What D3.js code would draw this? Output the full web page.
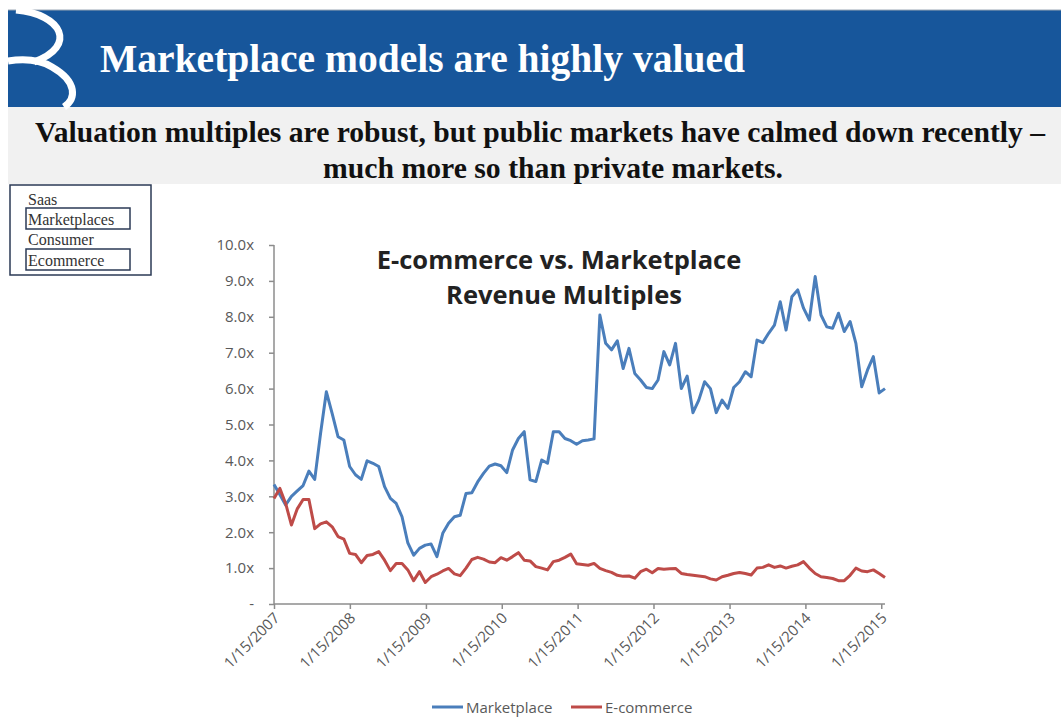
<!DOCTYPE html>
<html>
<head>
<meta charset="utf-8">
<script src="https://cdn.jsdelivr.net/npm/d3@7"></script>
<style>
  body { margin: 0; background: #fff; }
  svg { display: block; }
</style>
</head>
<body>
<div id="chart"></div>
<script>

// series are sampled every 4 weeks starting 1/15/2007
var startDate = "2007-01-15", stepDays = 28;

var marketplace = [3.33, 3.05, 2.76, 3.0, 3.15, 3.3, 3.7, 3.47, 4.75, 5.91,
    5.3, 4.66, 4.57, 3.83, 3.6, 3.47, 3.99, 3.92, 3.83, 3.27,
    2.94, 2.8, 2.43, 1.7, 1.36, 1.55, 1.64, 1.67, 1.32, 1.97,
    2.25, 2.43, 2.47, 3.08, 3.1, 3.4, 3.64, 3.84, 3.9, 3.85,
    3.66, 4.29, 4.61, 4.8, 3.46, 3.41, 4.01, 3.92, 4.8, 4.8,
    4.61, 4.55, 4.45, 4.55, 4.57, 4.6, 8.05, 7.26, 7.08, 7.33,
    6.56, 7.12, 6.42, 6.24, 6.03, 6.0, 6.24, 7.03, 6.66, 7.26,
    6.0, 6.35, 5.33, 5.68, 6.19, 6.0, 5.33, 5.68, 5.45, 6.03,
    6.19, 6.47, 6.33, 7.35, 7.28, 7.54, 7.77, 8.42, 7.63, 8.56,
    8.75, 8.24, 7.91, 9.12, 8.05, 7.72, 7.68, 8.1, 7.59, 7.87,
    7.26, 6.05, 6.52, 6.89, 5.88, 6.0];

var ecommerce = [2.94, 3.22, 2.8, 2.2, 2.65, 2.91, 2.91, 2.1, 2.23, 2.29,
    2.15, 1.88, 1.81, 1.41, 1.38, 1.15, 1.35, 1.38, 1.46, 1.22,
    0.93, 1.13, 1.13, 0.95, 0.65, 0.9, 0.6, 0.76, 0.83, 0.92,
    0.99, 0.84, 0.79, 1.0, 1.24, 1.3, 1.25, 1.17, 1.15, 1.29,
    1.22, 1.32, 1.43, 1.22, 1.2, 1.04, 1.0, 0.95, 1.18, 1.22,
    1.3, 1.39, 1.12, 1.1, 1.08, 1.13, 0.99, 0.93, 0.88, 0.8,
    0.77, 0.78, 0.72, 0.9, 0.97, 0.87, 0.99, 0.97, 0.98, 0.99,
    0.85, 0.82, 0.8, 0.78, 0.76, 0.7, 0.67, 0.76, 0.8, 0.85,
    0.88, 0.85, 0.81, 1.0, 1.02, 1.09, 1.02, 1.06, 1.0, 1.05,
    1.09, 1.18, 1.0, 0.85, 0.76, 0.74, 0.71, 0.65, 0.65, 0.8,
    1.0, 0.92, 0.9, 0.95, 0.85, 0.74];

var xTickLabels = ["1/15/2007", "1/15/2008", "1/15/2009", "1/15/2010", "1/15/2011",
    "1/15/2012", "1/15/2013", "1/15/2014", "1/15/2015"];
var yTicks = [0, 1, 2, 3, 4, 5, 6, 7, 8, 9, 10];
var yTickLabels = ["-", "1.0x", "2.0x", "3.0x", "4.0x", "5.0x", "6.0x", "7.0x", "8.0x", "9.0x", "10.0x"];

var seriesNames = ["Marketplace", "E-commerce"];
var seriesColors = ["#4a7ebb", "#be4b48"];
var sideMenu = ["Saas", "Marketplaces", "Consumer", "Ecommerce"];


var W = 1061, H = 726;
var svg = d3.select("#chart").append("svg")
    .attr("width", W)
    .attr("height", H);

/* slide header */
svg.append("rect")
    .attr("x", 8).attr("y", 10)
    .attr("width", W - 8).attr("height", 97)
    .style("fill", "#17569b");
svg.append("line")
    .attr("x1", 8).attr("x2", W).attr("y1", 10).attr("y2", 10)
    .style("stroke", "#9aa6b4");
svg.append("rect")
    .attr("x", 8).attr("y", 107)
    .attr("width", W - 8).attr("height", 77)
    .style("fill", "#f1f1f1");

// white logo strokes on the left
svg.append("path")
    .attr("d", "M16,10 C62,14 78,46 34,62")
    .style("fill", "none").style("stroke", "#fff").style("stroke-width", 7);
svg.append("path")
    .attr("d", "M8,61 C28,58 42,61 52,67 C78,82 76,99 64,107")
    .style("fill", "none").style("stroke", "#fff").style("stroke-width", 7);

svg.append("text")
    .attr("x", 100).attr("y", 72)
    .attr("textLength", 645).attr("lengthAdjust", "spacingAndGlyphs")
    .style("font-family", "Liberation Serif").style("font-weight", "bold")
    .style("font-size", "41px").style("fill", "#fff")
    .text("Marketplace models are highly valued");

svg.append("text")
    .attr("x", 35).attr("y", 142)
    .attr("textLength", 1010).attr("lengthAdjust", "spacingAndGlyphs")
    .style("font-family", "Liberation Serif").style("font-weight", "bold")
    .style("font-size", "29px").style("fill", "#111")
    .text("Valuation multiples are robust, but public markets have calmed down recently \u2013");
svg.append("text")
    .attr("x", 323).attr("y", 178)
    .attr("textLength", 460).attr("lengthAdjust", "spacingAndGlyphs")
    .style("font-family", "Liberation Serif").style("font-weight", "bold")
    .style("font-size", "29px").style("fill", "#111")
    .text("much more so than private markets.");

/* side menu box */
svg.append("rect")
    .attr("x", 10).attr("y", 185).attr("width", 141).attr("height", 90)
    .style("fill", "none").style("stroke", "#2b3a55").style("stroke-width", 1.5);
[1, 3].forEach(function(i) {
    svg.append("rect")
        .attr("x", 26).attr("y", i == 1 ? 208 : 249).attr("width", 104).attr("height", 21)
        .style("fill", "none").style("stroke", "#2b3a55").style("stroke-width", 1.5);
});
var menuY = [205, 225, 245, 266];
sideMenu.forEach(function(name, i) {
    svg.append("text")
        .attr("x", 28).attr("y", menuY[i])
        .style("font-family", "Liberation Serif").style("font-size", "16px")
        .style("fill", "#333")
        .text(name);
});


/* chart */
var dates = marketplace.map(function(d, i) {
    return d3.timeDay.offset(new Date(startDate + "T00:00:00"), i * stepDays);
});
var tickDates = xTickLabels.map(function(s) { return d3.timeParse("%m/%d/%Y")(s); });

var x = d3.scaleTime()
    .domain([dates[0], dates[dates.length - 1]])
    .range([274, 885]);
var y = d3.scaleLinear()
    .domain([0, 10])
    .range([604, 245]);

var axisColor = "#8c8c8c", labelColor = "#595959";

var yAxis = svg.append("g")
    .attr("transform", "translate(274,0)")
    .call(d3.axisLeft(y).tickValues(yTicks).tickSize(5).tickPadding(15)
        .tickFormat(function(d, i) { return yTickLabels[i]; }));
var xAxis = svg.append("g")
    .attr("transform", "translate(0,604)")
    .call(d3.axisBottom(x).tickValues(tickDates).tickSize(5)
        .tickFormat(function(d, i) { return xTickLabels[i]; }));

[xAxis, yAxis].forEach(function(g) {
    g.select(".domain").style("stroke", axisColor).style("stroke-width", 1.5);
    g.selectAll(".tick line").style("stroke", axisColor).style("stroke-width", 1.5);
    g.selectAll("text")
        .style("font-family", "Open Sans").style("font-size", "15px")
        .style("fill", labelColor);
});
yAxis.select(".domain").attr("d", "M-0,245V604");
xAxis.select(".domain").attr("d", "M274,0H885");
xAxis.selectAll(".tick text")
    .attr("text-anchor", "end")
    .attr("dy", null)
    .attr("y", 0)
    .attr("transform", "translate(6,15) rotate(-45)");

var line = d3.line()
    .x(function(d) { return x(d.date); })
    .y(function(d) { return y(d.value); });

[marketplace, ecommerce].forEach(function(series, k) {
    var pts = series.map(function(v, i) { return {date: dates[i], value: v}; });
    svg.append("path")
        .datum(pts)
        .attr("d", line)
        .style("fill", "none")
        .style("stroke", seriesColors[k])
        .style("stroke-width", 3)
        .style("stroke-linejoin", "round");
});

// chart title
svg.append("text")
    .attr("x", 559).attr("y", 269)
    .attr("text-anchor", "middle")
    .style("font-family", "Open Sans").style("font-weight", "bold")
    .style("font-size", "25.5px").style("fill", "#222")
    .text("E-commerce vs. Marketplace");
svg.append("text")
    .attr("x", 564).attr("y", 304)
    .attr("text-anchor", "middle")
    .style("font-family", "Open Sans").style("font-weight", "bold")
    .style("font-size", "25.5px").style("fill", "#222")
    .text("Revenue Multiples");

// legend
var legendX = [432, 571];
seriesNames.forEach(function(name, k) {
    var g = svg.append("g").attr("transform", "translate(" + legendX[k] + ",707)");
    g.append("line")
        .attr("x1", 0).attr("x2", 31)
        .style("stroke", seriesColors[k]).style("stroke-width", 3);
    g.append("text")
        .attr("x", 34).attr("y", 5.5)
        .style("font-family", "Open Sans").style("font-size", "15px")
        .style("fill", labelColor)
        .text(name);
});

</script>
</body>
</html>
